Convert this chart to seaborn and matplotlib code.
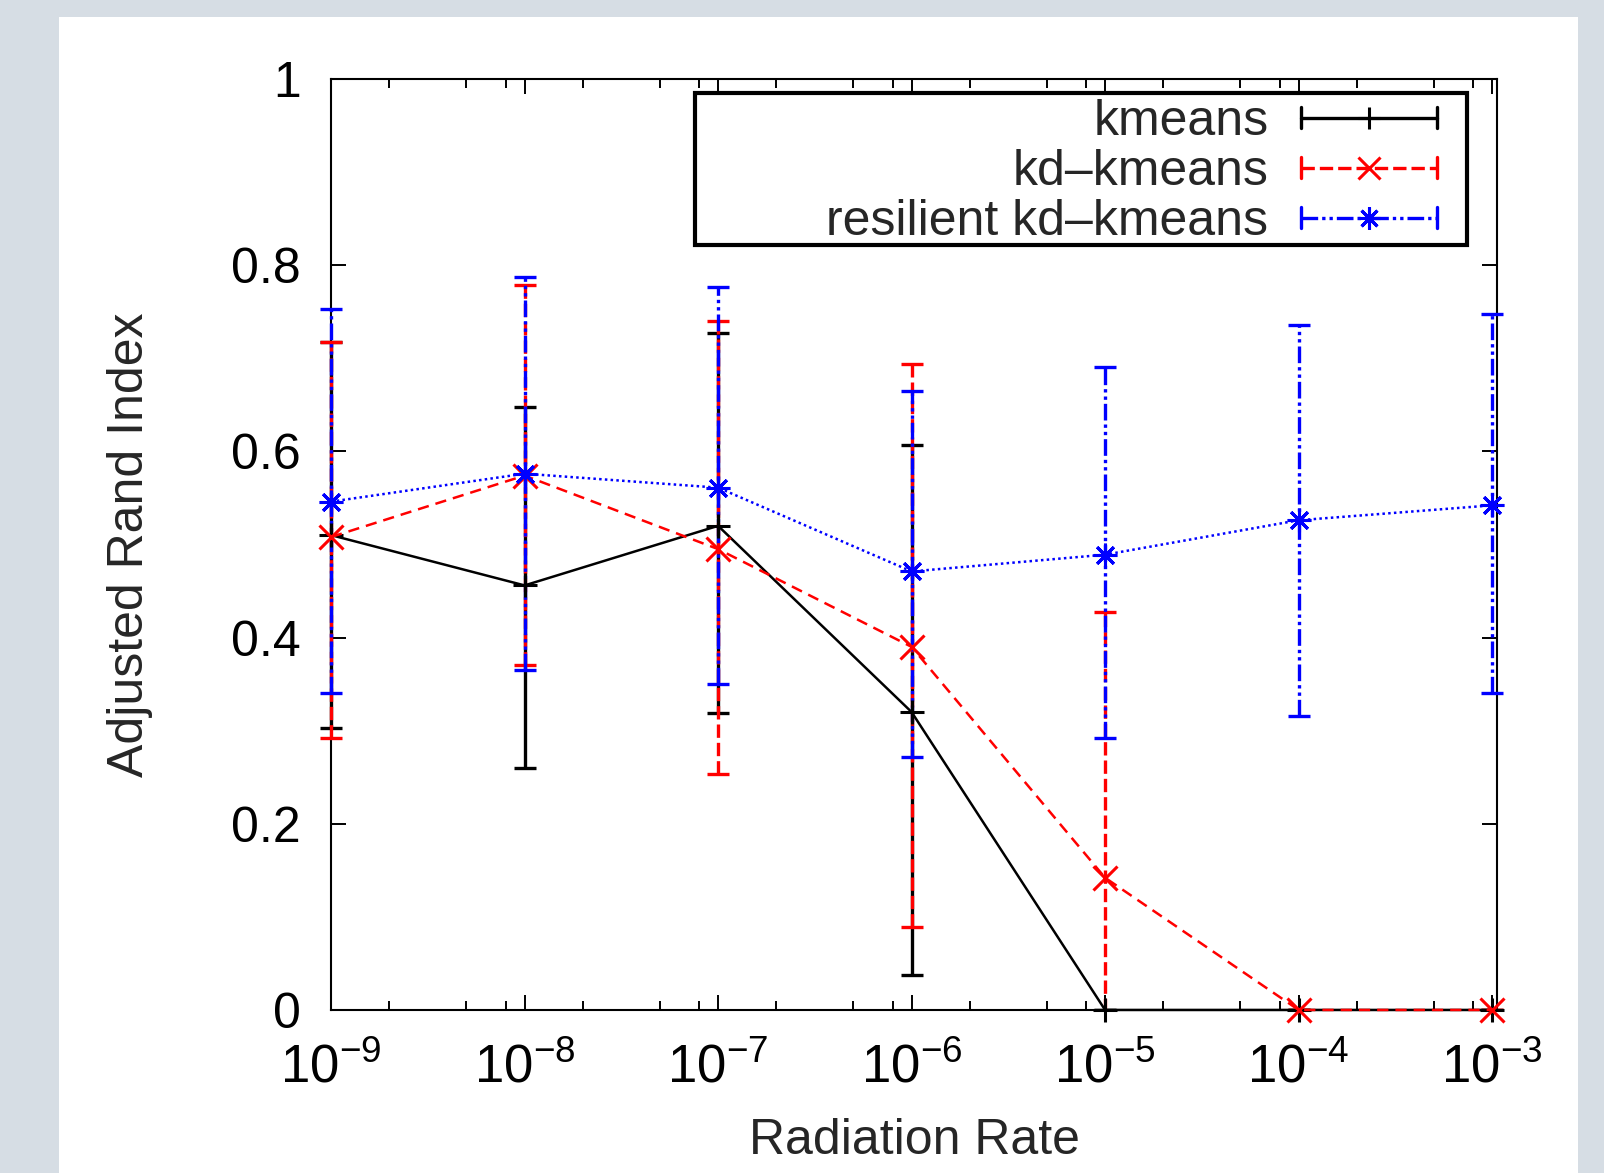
import numpy as np
import pandas as pd
import matplotlib
matplotlib.use('Agg')
import matplotlib.pyplot as plt
import matplotlib.ticker as mticker
from matplotlib.lines import Line2D
from matplotlib.patches import Rectangle
from matplotlib.transforms import Bbox, TransformedBbox
from matplotlib.legend_handler import HandlerBase
import seaborn as sns

# ---------------- data ----------------
rates = [1e-9, 1e-8, 1e-7, 1e-6, 1e-5, 1e-4, 1e-3]
methods = ['kmeans', 'kd\u2013kmeans', 'resilient kd\u2013kmeans']

kmeans_mean = [0.510, 0.456, 0.520, 0.320, 0.0, 0.0, 0.0]
kmeans_low = [0.303, 0.260, 0.319, 0.038, 0.0, 0.0, 0.0]
kmeans_high = [0.717, 0.648, 0.727, 0.607, 0.0, 0.0, 0.0]

kd_mean = [0.508, 0.574, 0.495, 0.390, 0.142, 0.0, 0.0]
kd_low = [0.292, 0.370, 0.253, 0.089, -0.14, 0.0, 0.0]  # 1e-5 bar runs below the axis
kd_high = [0.717, 0.779, 0.740, 0.694, 0.427, 0.0, 0.0]

res_mean = [0.546, 0.576, 0.561, 0.471, 0.489, 0.526, 0.542]
res_low = [0.340, 0.365, 0.350, 0.272, 0.292, 0.316, 0.340]
res_high = [0.753, 0.787, 0.777, 0.665, 0.691, 0.736, 0.747]

means = [kmeans_mean, kd_mean, res_mean]
lows = [kmeans_low, kd_low, res_low]
highs = [kmeans_high, kd_high, res_high]

df = pd.DataFrame({
    'rate': rates * 3,
    'ari': kmeans_mean + kd_mean + res_mean,
    'method': [m for m in methods for _ in rates],
})

# ---------------- styles ----------------
colors = {methods[0]: '#000000', methods[1]: '#ff0000', methods[2]: '#0000ff'}
markers = {methods[0]: '+', methods[1]: 'x', methods[2]: (8, 2, 0)}
dashes = {methods[0]: '', methods[1]: (4.5, 2.8), methods[2]: (1, 1.3)}
bar_styles = {methods[0]: '-', methods[1]: (0, (4, 1.5)),
              methods[2]: (0, (5, 1.2, 1, 1.2, 1, 1.2))}

sns.set_theme(style='ticks')
plt.rcParams['font.family'] = ['Liberation Sans', 'DejaVu Sans']
plt.rcParams['mathtext.fontset'] = 'custom'
plt.rcParams['mathtext.rm'] = 'Liberation Sans'
plt.rcParams['mathtext.it'] = 'Liberation Sans'

fig = plt.figure(figsize=(16.04, 11.73), dpi=100, facecolor='#d6dde4')
fig.patches.append(Rectangle((59 / 1604, 0), (1578 - 59) / 1604, 1 - 17 / 1173,
                             transform=fig.transFigure, facecolor='white',
                             edgecolor='none', zorder=-10))
ax = fig.add_axes([0.2064, 0.1390, 0.7269, 0.7937])

# error bars are clipped only in y (like gnuplot), so caps at the edges show whole
bar_clip = TransformedBbox(Bbox([[-0.05, 0.0], [1.05, 1.0]]), ax.transAxes)

# error bars first, in gnuplot plotting order
for i, m in enumerate(methods):
    mu = np.array(means[i])
    lo = np.array(lows[i])
    hi = np.array(highs[i])
    cont = ax.errorbar(rates, mu, yerr=[mu - lo, hi - mu], fmt='none',
                       ecolor=colors[m], elinewidth=2.4, capsize=8,
                       capthick=2.4, zorder=2 + i)
    cont[2][0].set_linestyle(bar_styles[m])
    for art in list(cont[1]) + list(cont[2]):
        art.set_clip_box(bar_clip)
        art.set_clip_path(None)

n_before = len(ax.lines)
sns.lineplot(data=df, x='rate', y='ari', hue='method', style='method',
             palette=colors, markers=markers, dashes=dashes,
             hue_order=methods, style_order=methods,
             linewidth=1.8, markersize=17, ax=ax, legend=False)
for line, m in zip(ax.lines[n_before:], methods):
    line.set_markeredgecolor(colors[m])
    line.set_markeredgewidth(2.2)
    line.set_zorder(6)
    line.set_clip_on(False)

ax.set_xscale('log')
ax.set_xlim(1e-9, 1.06e-3)
ax.set_ylim(0, 1)
ax.set_yticks([0, 0.2, 0.4, 0.6, 0.8, 1.0])
ax.yaxis.set_major_formatter(mticker.FormatStrFormatter('%g'))
ax.xaxis.set_major_locator(mticker.LogLocator(base=10, numticks=20))
ax.xaxis.set_minor_locator(mticker.LogLocator(base=10, subs=(2, 5, 8), numticks=20))
ax.xaxis.set_minor_formatter(mticker.NullFormatter())

ax.tick_params(which='both', direction='in', top=True, right=True,
               width=1.4, colors='#000000')
ax.tick_params(axis='y', labelsize=36, pad=22)
ax.tick_params(axis='x', labelsize=38, pad=24)
ax.tick_params(which='major', length=11)
ax.tick_params(which='minor', length=6.5)
for s in ax.spines.values():
    s.set_visible(True)
    s.set_linewidth(1.5)
    s.set_color('#000000')

ax.set_xlabel('Radiation Rate', fontsize=36, labelpad=18)
ax.set_ylabel('Adjusted Rand Index', fontsize=36, labelpad=56)


# gnuplot-like legend sample: line with end caps and a point in the middle
class GnuHandler(HandlerBase):
    def __init__(self, color, ls, marker):
        super().__init__()
        self.color, self.ls, self.marker = color, ls, marker

    def create_artists(self, legend, orig_handle, xdescent, ydescent,
                       width, height, fontsize, trans):
        y = height / 2 - ydescent
        x0, x1 = -xdescent, width - xdescent
        h = height * 0.3
        arts = [
            Line2D([x0, x1], [y, y], color=self.color, lw=2.4, ls=self.ls),
            Line2D([x0, x0], [y - h, y + h], color=self.color, lw=2.4),
            Line2D([x1, x1], [y - h, y + h], color=self.color, lw=2.4),
            Line2D([(x0 + x1) / 2], [y], color=self.color, marker=self.marker,
                   markersize=16, mew=2.2, mec=self.color, ls='none'),
        ]
        for a in arts:
            a.set_transform(trans)
        return arts


# legend frame drawn as a box the size of the original one
ax.add_patch(Rectangle((0.312, 0.822), 0.974 - 0.312, 0.985 - 0.822,
                       transform=ax.transAxes, facecolor='white',
                       edgecolor='#000000', linewidth=3, zorder=10,
                       clip_on=False))

handles = [Line2D([], [], color=colors[m]) for m in methods]
handler_map = {h: GnuHandler(colors[m], bar_styles[m], markers[m])
               for h, m in zip(handles, methods)}
leg = ax.legend(handles, methods, handler_map=handler_map, loc='upper right',
                bbox_to_anchor=(0.9485, 0.978), borderaxespad=0,
                markerfirst=False, fontsize=36, frameon=False,
                handlelength=2.72, handletextpad=0.65, labelspacing=0.08,
                borderpad=0)
leg.set_zorder(11)

fig.savefig('out.png', dpi=100, facecolor=fig.get_facecolor())
